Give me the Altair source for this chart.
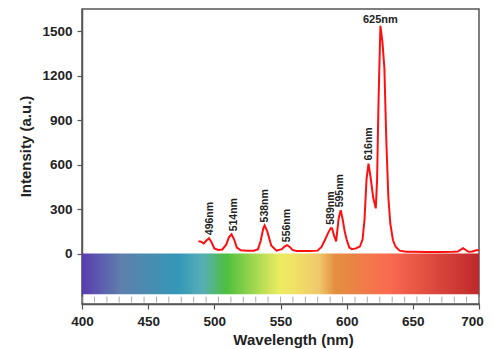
import altair as alt
import pandas as pd

# Emission spectrum
wavelength = [488, 490, 492, 494, 496, 498, 500, 503, 506, 509, 511, 513, 515, 517, 520,
              525, 530, 533, 535, 537, 538, 540, 543, 547, 551, 553, 555, 557, 559, 562,
              566, 572, 578, 581, 584, 586, 588, 589, 590.5, 592, 594, 595.5, 597, 598.5,
              600, 602, 604, 607, 610, 612, 613.5, 615, 616.5, 618, 620, 622, 623, 624,
              625.5, 627, 628.5, 630, 631.5, 633, 635, 637, 640, 645, 650, 660, 670, 680,
              684, 686, 688, 690, 692, 695, 698, 700]
intensity = [83, 80, 68, 88, 104, 75, 35, 24, 28, 60, 110, 130, 95, 40, 22,
             20, 20, 30, 85, 170, 190, 150, 55, 20, 30, 48, 57, 45, 25, 18,
             18, 17, 20, 45, 100, 140, 172, 170, 120, 82, 240, 292, 230, 150,
             95, 40, 30, 35, 48, 95, 230, 500, 607, 520, 380, 305, 500, 1000,
             1537, 1430, 1250, 750, 380, 200, 90, 46, 20, 12, 12, 10, 11, 12,
             14, 25, 36, 24, 12, 14, 22, 24]

# Peak annotations
peak_labels = ["496nm", "514nm", "538nm", "556nm", "589nm", "595nm", "616nm"]
peak_wl = [496.5, 515, 538, 555, 588, 595, 616.5]
peak_int = [104, 130, 190, 57, 174, 292, 607]
top_label = ["625nm"]
top_wl = [625.5]
top_int = [1537]

# Visible-spectrum colour band
band_nm = [400, 430, 473, 491, 509, 549, 560, 579, 591, 632, 700]
band_colors = ["#5a3cb0", "#5e80ac", "#3398b8", "#58aeb6", "#4cbf3e", "#ecec60",
               "#f0e266", "#f0c86c", "#e3903f", "#fa6a50", "#bf282b"]
band_top = [0]
band_bottom = [-275]

# Ruler cell boundaries under the band
ruler_nm = [400, 409.4, 418.8, 428.1, 437.5, 446.9, 456.3, 465.6, 475, 484.4, 493.8,
            503.1, 512.5, 521.9, 531.3, 540.6, 550, 559.4, 568.8, 578.1, 587.5, 596.9,
            606.3, 615.6, 625, 634.4, 643.8, 653.1, 662.5, 671.9, 681.3, 690.6, 700]
ruler_top = -290
ruler_bottom = -330

x_ticks = [400, 425, 450, 475, 500, 525, 550, 575, 600, 625, 650, 675, 700]
y_ticks = [0, 150, 300, 450, 600, 750, 900, 1050, 1200, 1350, 1500]

FONT = "Liberation Sans"
AX = "#555555"

x_scale = alt.Scale(domain=[400, 700], nice=False, zero=False)
y_scale = alt.Scale(domain=[-340, 1650], nice=False, zero=False)

x_axis = alt.Axis(
    values=x_ticks, grid=False, title="Wavelength (nm)", format="d",
    labelExpr="datum.value % 50 === 0 ? datum.label : ''",
    tickSize={"condition": {"test": "datum.value % 50 === 0", "value": 5}, "value": 3},
    labelOffset={"condition": {"test": "datum.value === 700", "value": -7}, "value": 0},
    labelFont=FONT, labelFontSize=13.5, labelFontWeight="bold", labelColor="#222",
    labelPadding=5, titleFont=FONT, titleFontSize=15, titleFontWeight="bold",
    titleColor="#222", titleX=211, titleY=35, titleBaseline="middle",
    domainColor=AX, domainWidth=1.5, tickColor=AX, tickWidth=1.2, labelFlush=False,
)
y_axis = alt.Axis(
    values=y_ticks, grid=False, title="Intensity (a.u.)", format="d",
    labelExpr="datum.value % 300 === 0 ? datum.label : ''",
    tickSize={"condition": {"test": "datum.value % 300 === 0", "value": 5}, "value": 3},
    labelFont=FONT, labelFontSize=13.5, labelFontWeight="bold", labelColor="#222",
    labelPadding=5, titleFont=FONT, titleFontSize=15, titleFontWeight="bold",
    titleColor="#222", titleX=-57, titleY=137, titleBaseline="middle", titleAngle=270,
    domainColor=AX, domainWidth=1.5, tickColor=AX, tickWidth=1.2, labelFlush=False,
)

band_df = pd.DataFrame({"x": [band_nm[0]], "x2": [band_nm[-1]],
                        "y": band_top, "y2": band_bottom})
span = band_nm[-1] - band_nm[0]
stops = [alt.GradientStop(offset=(n - band_nm[0]) / span, color=c)
         for n, c in zip(band_nm, band_colors)]
band = alt.Chart(band_df).mark_rect(
    fill=alt.Gradient(gradient="linear", stops=stops, x1=0, x2=1, y1=0, y2=0)
).encode(
    x=alt.X("x:Q", scale=x_scale, axis=x_axis),
    x2="x2",
    y=alt.Y("y:Q", scale=y_scale, axis=y_axis),
    y2="y2",
)

ruler_df = pd.DataFrame({"x": ruler_nm, "y": [ruler_top] * len(ruler_nm),
                         "y2": [ruler_bottom] * len(ruler_nm)})
ruler = alt.Chart(ruler_df).mark_rule(color="#aaaaaa", strokeWidth=1).encode(
    x=alt.X("x:Q", scale=x_scale), y=alt.Y("y:Q", scale=y_scale), y2="y2")

spec_df = pd.DataFrame({"wl": wavelength, "I": intensity})
line = alt.Chart(spec_df).mark_line(color="#ff1010", strokeWidth=2).encode(
    x=alt.X("wl:Q", scale=x_scale), y=alt.Y("I:Q", scale=y_scale))

lab_df = pd.DataFrame({"wl": peak_wl, "I": peak_int, "t": peak_labels})
labels = alt.Chart(lab_df).mark_text(
    angle=270, align="left", baseline="middle", dx=3, font=FONT, fontSize=10.5,
    fontWeight="bold", color="#222"
).encode(x=alt.X("wl:Q", scale=x_scale), y=alt.Y("I:Q", scale=y_scale), text="t:N")

top_df = pd.DataFrame({"wl": top_wl, "I": top_int, "t": top_label})
top = alt.Chart(top_df).mark_text(
    align="center", baseline="bottom", dy=-1, font=FONT, fontSize=11,
    fontWeight="bold", color="#222"
).encode(x=alt.X("wl:Q", scale=x_scale), y=alt.Y("I:Q", scale=y_scale), text="t:N")

chart = alt.layer(band, ruler, line, labels, top).properties(
    width=397, height=295,
    autosize=alt.AutoSizeParams(type="none"),
    padding={"left": 74, "top": 1, "right": 6, "bottom": 45},
    background="white",
).configure_view(stroke=AX, strokeWidth=1.5)

chart.save("out.html", embed_options={"renderer": "svg", "actions": False})
